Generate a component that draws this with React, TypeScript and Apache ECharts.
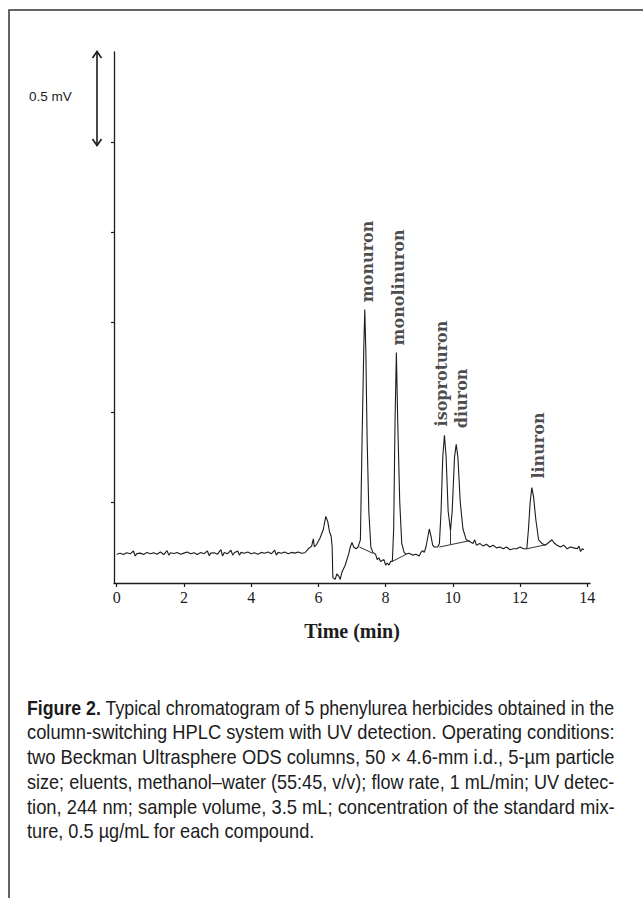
import React, { useEffect, useRef } from "react";
import * as echarts from "echarts";

// ---------- data ----------
const timeMin = [
  0.0, 0.1, 0.2, 0.3, 0.4, 0.5, 0.55, 0.6, 0.7, 0.8, 0.9, 1.0, 1.1, 1.2, 1.3, 1.4, 1.5, 1.55, 1.6, 1.7,
  1.8, 1.9, 2.0, 2.1, 2.2, 2.3, 2.4, 2.5, 2.6, 2.7, 2.75, 2.8, 2.9, 3.0, 3.1, 3.15, 3.2, 3.3, 3.4, 3.45,
  3.5, 3.6, 3.65, 3.7, 3.8, 3.9, 4.0, 4.1, 4.2, 4.3, 4.4, 4.5, 4.6, 4.7, 4.75, 4.8, 4.9, 5.0, 5.1, 5.2,
  5.3, 5.4, 5.5, 5.6, 5.7, 5.8, 5.85, 5.88, 5.95, 6.05, 6.15, 6.22, 6.28, 6.33, 6.38, 6.41, 6.43, 6.5, 6.55, 6.6,
  6.65, 6.7, 6.8, 6.9, 6.95, 7.0, 7.05, 7.12, 7.18, 7.25, 7.3, 7.35, 7.38, 7.41, 7.45, 7.5, 7.56, 7.62, 7.7, 7.75,
  7.8, 7.85, 7.95, 8.0, 8.05, 8.1, 8.15, 8.2, 8.24, 8.28, 8.32, 8.36, 8.42, 8.48, 8.55, 8.6, 8.7, 8.8, 8.9, 9.0,
  9.05, 9.1, 9.15, 9.2, 9.3, 9.35, 9.4, 9.45, 9.55, 9.6, 9.65, 9.7, 9.75, 9.8, 9.86, 9.93, 9.98, 10.05, 10.1, 10.15,
  10.22, 10.3, 10.4, 10.5, 10.6, 10.65, 10.7, 10.8, 10.9, 11.0, 11.1, 11.2, 11.3, 11.4, 11.5, 11.6, 11.7, 11.8, 11.9, 12.0,
  12.1, 12.2, 12.25, 12.3, 12.35, 12.4, 12.47, 12.55, 12.65, 12.75, 12.85, 12.95, 13.0, 13.1, 13.2, 13.3, 13.4, 13.5, 13.6, 13.7,
  13.75, 13.8, 13.85, 13.9,
];
const signalMv = [
  0.16, 0.165, 0.158, 0.168, 0.162, 0.178, 0.15, 0.163, 0.166, 0.158, 0.17, 0.163, 0.168, 0.16, 0.172, 0.158, 0.18, 0.155, 0.168, 0.164,
  0.17, 0.16, 0.166, 0.172, 0.162, 0.168, 0.158, 0.17, 0.163, 0.178, 0.152, 0.166, 0.168, 0.16, 0.185, 0.15, 0.17, 0.163, 0.182, 0.155,
  0.168, 0.178, 0.155, 0.17, 0.165, 0.172, 0.163, 0.168, 0.16, 0.17, 0.165, 0.172, 0.162, 0.182, 0.155, 0.17, 0.165, 0.172, 0.163, 0.17,
  0.166, 0.172, 0.165, 0.168, 0.19, 0.205, 0.245, 0.2, 0.215, 0.25, 0.3, 0.37, 0.34, 0.285, 0.26, 0.2, 0.03, 0.02, 0.05, 0.04,
  0.02, 0.06, 0.1, 0.16, 0.2, 0.225, 0.2, 0.19, 0.2, 0.24, 0.8, 1.3, 1.52, 1.3, 0.8, 0.4, 0.2, 0.17, 0.16, 0.13,
  0.14, 0.12, 0.13, 0.1, 0.11, 0.1, 0.12, 0.12, 0.3, 0.9, 1.28, 0.9, 0.45, 0.22, 0.17, 0.16, 0.165, 0.155, 0.16, 0.15,
  0.17, 0.18, 0.17, 0.2, 0.3, 0.26, 0.21, 0.2, 0.2, 0.22, 0.4, 0.7, 0.82, 0.7, 0.4, 0.29, 0.4, 0.7, 0.77, 0.7,
  0.45, 0.3, 0.24, 0.23, 0.22, 0.24, 0.21, 0.22, 0.205, 0.215, 0.2, 0.21, 0.195, 0.2, 0.19, 0.2, 0.185, 0.19, 0.19, 0.2,
  0.19, 0.19, 0.3, 0.45, 0.53, 0.48, 0.35, 0.24, 0.22, 0.21, 0.225, 0.24, 0.225, 0.21, 0.2, 0.21, 0.19, 0.2, 0.195, 0.19,
  0.205, 0.175, 0.19, 0.185,
];
// straight baselines drawn by the integrator
const integratorSegments: number[][][] = [
  [[7.22, 0.2], [7.62, 0.165]],
  [[8.2, 0.12], [8.62, 0.16]],
  [[9.6, 0.2], [10.5, 0.235]],
  [[9.93, 0.29], [9.93, 0.215]],
  [[12.2, 0.19], [12.75, 0.212]],
];
const peakNames = ["monuron", "monolinuron", "isoproturon", "diuron", "linuron"];
const peakLabelTime = [7.45, 8.38, 9.65, 10.25, 12.54];
const peakLabelMv = [1.56, 1.32, 0.87, 0.86, 0.58];
const xTicks = [0, 2, 4, 6, 8, 10, 12, 14];
const yTicks = [0.45, 0.95, 1.45, 1.95, 2.45];
const scaleBarText = "0.5 mV";
const xAxisTitle = "Time (min)";
const captionLead = "Figure 2.";
const captionLines = [
  " Typical chromatogram of 5 phenylurea herbicides obtained in the",
  "column-switching HPLC system with UV detection. Operating conditions:",
  "two Beckman Ultrasphere ODS columns, 50 × 4.6-mm i.d., 5-µm particle",
  "size; eluents, methanol–water (55:45, v/v); flow rate, 1 mL/min; UV detec-",
  "tion, 244 nm; sample volume, 3.5 mL; concentration of the standard mix-",
  "ture, 0.5 µg/mL for each compound.",
];

const W = 643;
const H = 898;
const INK = "#1c1c1c";

export default function App() {
  const ref = useRef<HTMLDivElement>(null);

  useEffect(() => {
    const chart = echarts.init(ref.current!, null, { renderer: "svg", width: W, height: H });

    // caption layout (justified lines by horizontal scaling)
    const capFont = '"Liberation Sans", Arial, sans-serif';
    const capSize = 20;
    const ctx = document.createElement("canvas").getContext("2d")!;
    const measure = (t: string, bold: boolean) => {
      ctx.font = `${bold ? "bold " : ""}${capSize}px "Liberation Sans"`;
      return ctx.measureText(t).width;
    };
    const capX = 27;
    const capW = 588;
    const capTop = 708;
    const capGap = 24.7;
    const leadW = measure(captionLead, true);
    const scales: number[] = captionLines.map((line, i) => {
      const w = measure(line, false) + (i === 0 ? leadW : 0);
      return capW / w;
    });
    const justified = scales.slice(0, 5);
    const meanScale = justified.reduce((a, b) => a + b, 0) / justified.length;
    scales[5] = meanScale;

    const captionGraphics = captionLines.map((line, i) => {
      const children: any[] = [];
      let x0 = 0;
      if (i === 0) {
        children.push({
          type: "text",
          x: 0,
          y: 0,
          style: { text: captionLead, fontFamily: capFont, fontSize: capSize, fontWeight: "bold", fill: INK, verticalAlign: "middle" },
        });
        x0 = leadW;
      }
      children.push({
        type: "text",
        x: x0,
        y: 0,
        style: { text: line, fontFamily: capFont, fontSize: capSize, fill: INK, verticalAlign: "middle" },
      });
      return { type: "group", x: capX, y: capTop + i * capGap, scaleX: scales[i], children };
    });

    const option: any = {
      animation: false,
      backgroundColor: "#fff",
      grid: { left: 114, top: 52, width: 476, height: 531, containLabel: false },
      xAxis: {
        type: "value",
        min: -0.08,
        max: 14.08,
        name: xAxisTitle,
        nameLocation: "middle",
        nameGap: 38,
        nameTextStyle: { fontFamily: '"Liberation Serif", serif', fontWeight: "bold", fontSize: 20, color: INK },
        axisLine: { show: true, onZero: false, lineStyle: { color: INK, width: 1.3 } },
        axisTick: { show: true, customValues: xTicks, length: 4, lineStyle: { color: INK, width: 1.2 } },
        axisLabel: { show: true, customValues: xTicks, margin: 6, fontFamily: '"Liberation Serif", serif', fontSize: 16, color: INK },
        splitLine: { show: false },
      },
      yAxis: {
        type: "value",
        min: 0,
        max: 2.95,
        axisLine: { show: true, onZero: false, lineStyle: { color: INK, width: 1.3 } },
        axisTick: { show: true, customValues: yTicks, length: 3, lineStyle: { color: INK, width: 1.2 } },
        axisLabel: { show: false },
        splitLine: { show: false },
      },
      series: [
        {
          type: "line",
          data: timeMin.map((t, i) => [t, signalMv[i]]),
          showSymbol: false,
          symbol: "none",
          lineStyle: { color: INK, width: 1.1 },
          z: 3,
        },
        {
          type: "lines",
          coordinateSystem: "cartesian2d",
          data: integratorSegments.map((c) => ({ coords: c })),
          lineStyle: { color: INK, width: 0.9, opacity: 1 },
          z: 2,
        },
        {
          type: "scatter",
          symbolSize: 0,
          data: peakNames.map((n, i) => ({ name: n, value: [peakLabelTime[i], peakLabelMv[i]] })),
          label: {
            show: true,
            formatter: "{b}",
            position: "top",
            distance: 0,
            rotate: 90,
            align: "left",
            verticalAlign: "middle",
            fontFamily: '"DejaVu Serif", serif',
            fontWeight: "bold",
            fontSize: 16,
            color: INK,
          },
          z: 4,
        },
      ],
      graphic: [
        {
          type: "rect",
          shape: { x: 9, y: 10, width: 700, height: 1000 },
          style: { fill: "none", stroke: "#333", lineWidth: 1.5 },
          silent: true,
        },
        {
          type: "line",
          shape: { x1: 97, y1: 52, x2: 97, y2: 145 },
          style: { stroke: INK, lineWidth: 1.6 },
        },
        {
          type: "polyline",
          shape: { points: [[92.5, 58], [97, 51.5], [101.5, 58]] },
          style: { stroke: INK, lineWidth: 1.6, fill: "none" },
        },
        {
          type: "polyline",
          shape: { points: [[92.5, 139], [97, 145.5], [101.5, 139]] },
          style: { stroke: INK, lineWidth: 1.6, fill: "none" },
        },
        {
          type: "text",
          x: 29,
          y: 96,
          style: { text: scaleBarText, fontFamily: '"Liberation Sans", Arial, sans-serif', fontSize: 13.5, fill: INK, verticalAlign: "middle" },
        },
        ...captionGraphics,
      ],
    };

    chart.setOption(option);
    return () => chart.dispose();
  }, []);

  return (
    <div
      ref={ref}
      style={{ position: "fixed", left: 0, top: 0, width: W, height: H, background: "#fff" }}
    />
  );
}
